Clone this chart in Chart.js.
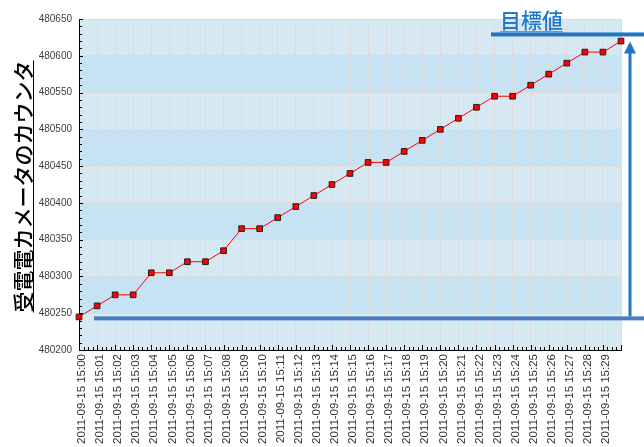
<!DOCTYPE html>
<html>
<head>
<meta charset="utf-8">
<script src="https://cdn.jsdelivr.net/npm/chart.js@4"></script>
<style>
body { margin: 0; background: #fff; }
#wrap { width: 644px; height: 447px; position: relative; }
</style>
</head>
<body>
<div id="wrap"><canvas id="chart"></canvas></div>
<script>
const times = [
    '2011-09-15 15:00', '2011-09-15 15:01', '2011-09-15 15:02', '2011-09-15 15:03',
    '2011-09-15 15:04', '2011-09-15 15:05', '2011-09-15 15:06', '2011-09-15 15:07',
    '2011-09-15 15:08', '2011-09-15 15:09', '2011-09-15 15:10', '2011-09-15 15:11',
    '2011-09-15 15:12', '2011-09-15 15:13', '2011-09-15 15:14', '2011-09-15 15:15',
    '2011-09-15 15:16', '2011-09-15 15:17', '2011-09-15 15:18', '2011-09-15 15:19',
    '2011-09-15 15:20', '2011-09-15 15:21', '2011-09-15 15:22', '2011-09-15 15:23',
    '2011-09-15 15:24', '2011-09-15 15:25', '2011-09-15 15:26', '2011-09-15 15:27',
    '2011-09-15 15:28', '2011-09-15 15:29', '2011-09-15 15:30'
];
const counterValues = [
    480245, 480260, 480275, 480275, 480305, 480305, 480320, 480320,
    480335, 480365, 480365, 480380, 480395, 480410, 480425, 480440,
    480455, 480455, 480470, 480485, 480500, 480515, 480530, 480545,
    480545, 480560, 480575, 480590, 480605, 480605, 480620
];
const yMin = 480200, yMax = 480650, yStep = 50, yMinorStep = 10;
const startLevel = 480243;   // 開始時の水準
const targetLevel = 480629;  // 目標値
const yTitle = '受電電カメータのカウンタ';
const targetText = '目標値';

// alternating blue bands behind the grid
const bandPlugin = {
    id: 'bands',
    beforeDraw(chart) {
        const { ctx, chartArea: a, scales: { y } } = chart;
        ctx.save();
        for (let v = yMin; v < yMax; v += yStep) {
            const top = y.getPixelForValue(v + yStep);
            const bottom = y.getPixelForValue(v);
            ctx.fillStyle = ((v - yMin) / yStep) % 2 ? '#c6e2f3' : '#d6e9f2';
            ctx.fillRect(a.left, top, a.right - a.left, bottom - top);
        }
        ctx.restore();
    }
};

// small ticks drawn inside the plot along both axes
const minorTicks = {
    id: 'minorTicks',
    afterDraw(chart) {
        const { ctx, chartArea: a, scales: { x, y } } = chart;
        ctx.save();
        ctx.strokeStyle = '#000';
        ctx.lineWidth = 1;
        ctx.beginPath();
        for (let v = yMin; v <= yMax; v += yMinorStep) {
            const py = Math.round(y.getPixelForValue(v)) + 0.5;
            ctx.moveTo(a.left, py);
            ctx.lineTo(a.left + ((v - yMin) % yStep === 0 ? 4 : 3), py);
        }
        for (let i = 0; i < times.length; i++) {
            const px = x.getPixelForValue(i);
            ctx.moveTo(Math.round(px) + 0.5, a.bottom);
            ctx.lineTo(Math.round(px) + 0.5, a.bottom - 5);
            if (i < times.length - 1) {
                const step = (x.getPixelForValue(i + 1) - px) / 4;
                for (let k = 1; k < 4; k++) {
                    const mx = Math.round(px + k * step) + 0.5;
                    ctx.moveTo(mx, a.bottom);
                    ctx.lineTo(mx, a.bottom - 3);
                }
            }
        }
        ctx.stroke();
        ctx.restore();
    }
};

// y title, start/target lines and the arrow
const notes = {
    id: 'notes',
    afterDraw(chart) {
        const { ctx, chartArea: a, scales: { y }, width } = chart;
        ctx.save();

        // rotated axis title with underline
        ctx.font = '500 21px "Noto Sans CJK JP"';
        const tw = ctx.measureText(yTitle).width;
        const cy = (a.top + a.bottom) / 2 + 2;
        ctx.translate(31, cy);
        ctx.rotate(-Math.PI / 2);
        ctx.fillStyle = '#000';
        ctx.textAlign = 'center';
        ctx.textBaseline = 'alphabetic';
        ctx.fillText(yTitle, 0, 0);
        ctx.fillRect(-tw / 2, 2, tw, 1);
        ctx.setTransform(1, 0, 0, 1, 0, 0);

        const y0 = y.getPixelForValue(startLevel);
        const y1 = y.getPixelForValue(targetLevel);

        ctx.fillStyle = '#4a7dbb';
        ctx.fillRect(a.left + 15, y0 - 2, width - a.left - 15, 4);

        ctx.fillStyle = '#1f76c4';
        ctx.fillRect(a.left + 412, y1 - 2, width - a.left - 412, 4);

        // arrow
        const ax = a.right + 9;
        ctx.fillRect(ax - 1.5, y1 + 18, 3, y0 - 2 - (y1 + 18));
        ctx.beginPath();
        ctx.moveTo(ax, y1 + 7);
        ctx.lineTo(ax + 6, y1 + 19);
        ctx.lineTo(ax - 6, y1 + 19);
        ctx.closePath();
        ctx.fill();

        // target label
        ctx.font = '500 21px "Noto Sans CJK JP"';
        ctx.fillStyle = '#1f78c8';
        ctx.textAlign = 'left';
        ctx.fillText(targetText, 500, 28);
        const lw = ctx.measureText(targetText).width;
        ctx.fillStyle = '#5a9ad6';
        ctx.fillRect(500, 31, lw, 1.5);

        ctx.restore();
    }
};

new Chart(document.getElementById('chart'), {
    type: 'line',
    data: {
        labels: times,
        datasets: [{
            label: yTitle,
            data: counterValues,
            borderColor: '#ff0000',
            borderWidth: 1,
            tension: 0,
            pointStyle: 'rect',
            pointRadius: 4,
            pointBackgroundColor: '#ff0000',
            pointBorderColor: '#202020',
            pointBorderWidth: 1
        }]
    },
    options: {
        responsive: true,
        maintainAspectRatio: false,
        animation: false,
        layout: { padding: { top: 19, right: 23, left: 0, bottom: 0 } },
        plugins: {
            legend: { display: false },
            tooltip: { enabled: false }
        },
        scales: {
            x: {
                afterFit: s => { s.height = 97; },
                grid: { color: '#dcdcdc', drawTicks: false },
                border: { color: '#000' },
                ticks: {
                    autoSkip: false,
                    minRotation: 90,
                    maxRotation: 90,
                    padding: 4,
                    labelOffset: 3,
                    color: '#333',
                    font: { family: '"Liberation Sans", Arial', size: 11.5 },
                    callback: (v, i) => i < times.length - 1 ? times[i] : ''
                }
            },
            y: {
                min: yMin,
                max: yMax,
                afterFit: s => { s.width = 79; },
                grid: { color: '#dcdcdc', drawTicks: false },
                border: { color: '#000' },
                ticks: {
                    stepSize: yStep,
                    padding: 7,
                    color: '#404040',
                    font: { family: '"Liberation Sans", Arial', size: 10 },
                    callback: v => String(v)
                }
            }
        }
    },
    plugins: [bandPlugin, minorTicks, notes]
});
</script>
</body>
</html>
